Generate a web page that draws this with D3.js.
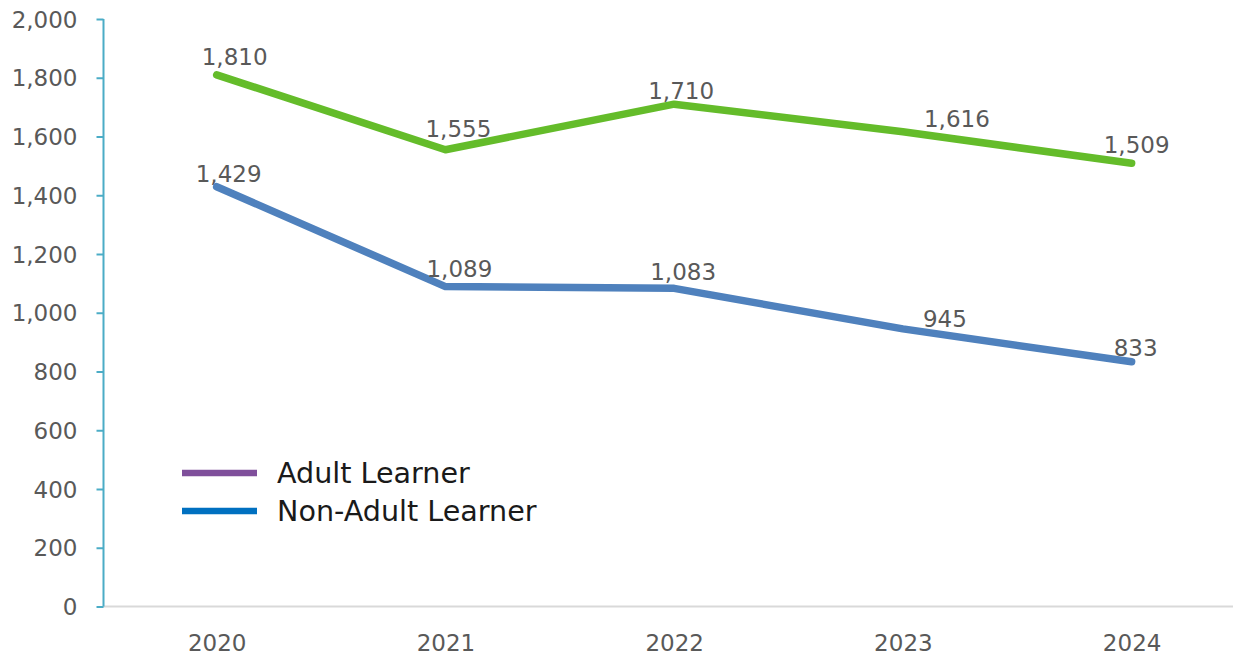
<!DOCTYPE html>
<html>
<head>
<meta charset="utf-8">
<script src="https://cdn.jsdelivr.net/npm/d3@7/dist/d3.min.js"></script>
<style>
  html, body { margin: 0; padding: 0; background: #fff; }
  svg { display: block; }
  text { font-family: "Century Gothic", "DejaVu Sans", sans-serif; }
</style>
</head>
<body>
<svg id="chart" width="1233" height="655"></svg>
<script>
// ---- data ----
const years = ["2020", "2021", "2022", "2023", "2024"];
const adultLearner = [1810, 1555, 1710, 1616, 1509];
const nonAdultLearner = [1429, 1089, 1083, 945, 833];
const yTicks = [0, 200, 400, 600, 800, 1000, 1200, 1400, 1600, 1800, 2000];
const legendLabels = ["Adult Learner", "Non-Adult Learner"];

// ---- label nudges (layout, as placed in the original) ----
const adultLabelDx = [18, 13, 7, 54, 5];
const adultLabelDy = [-10, -13, -5, -5, -10];
const nonAdultLabelDx = [12, 14, 9, 42, 4];
const nonAdultLabelDy = [-5, -10, -8, -2, -6];

const svg = d3.select("#chart");
const x = d3.scalePoint().domain(years).range([102.3, 1246]).padding(0.5);
const y = d3.scaleLinear().domain([0, 2000]).range([606.5, 19]);

const fmt = d3.format(",");

// x axis line (gray)
svg.append("line")
  .attr("x1", 103).attr("x2", 1233)
  .attr("y1", y(0)).attr("y2", y(0))
  .attr("stroke", "#d9d9d9").attr("stroke-width", 2);

// x axis labels
const xAxis = d3.axisBottom(x).tickSize(0).tickPadding(0);
const gx = svg.append("g").attr("transform", `translate(0,${y(0)})`).call(xAxis);
gx.select(".domain").remove();
gx.selectAll("text")
  .attr("y", 44).attr("dy", null)
  .attr("fill", "#595959")
  .style("font-size", "23px");

// y axis
const yAxis = d3.axisLeft(y).tickValues(yTicks).tickFormat(fmt).tickSize(7).tickPadding(19);
const gy = svg.append("g").attr("transform", "translate(103.5,0)").call(yAxis);
gy.select(".domain").attr("stroke", "#4bacc6").attr("stroke-width", 2).attr("d", `M0,${y(2000)}V${y(0)}`);
gy.selectAll(".tick line").attr("stroke", "#4bacc6").attr("stroke-width", 2);
gy.selectAll(".tick text")
  .attr("fill", "#595959")
  .attr("dy", "0.35em")
  .style("font-size", "23px");

// lines
const line = d3.line().x((d, i) => x(years[i])).y(d => y(d));
const series = [
  { values: adultLearner, color: "#64bc2a", dx: adultLabelDx, dy: adultLabelDy },
  { values: nonAdultLearner, color: "#4f81bd", dx: nonAdultLabelDx, dy: nonAdultLabelDy }
];

series.forEach(s => {
  svg.append("path")
    .attr("d", line(s.values))
    .attr("fill", "none")
    .attr("stroke", s.color)
    .attr("stroke-width", 7.5)
    .attr("stroke-linecap", "round")
    .attr("stroke-linejoin", "round");

  svg.append("g").selectAll("text")
    .data(s.values)
    .join("text")
    .attr("x", (d, i) => x(years[i]) + s.dx[i])
    .attr("y", (d, i) => y(d) + s.dy[i])
    .attr("text-anchor", "middle")
    .attr("fill", "#595959")
    .style("font-size", "23px")
    .text(d => fmt(d));
});

// legend
const legendColors = ["#7f4f9b", "#0070c0"];
const legend = svg.append("g");
legendLabels.forEach((lab, i) => {
  const ly = 473 + i * 38;
  legend.append("line")
    .attr("x1", 182).attr("x2", 257)
    .attr("y1", ly).attr("y2", ly)
    .attr("stroke", legendColors[i]).attr("stroke-width", 6.5);
  legend.append("text")
    .attr("x", 277).attr("y", ly)
    .attr("dy", "0.36em")
    .attr("fill", "#1a1a1a")
    .style("font-size", "28.6px")
    .text(lab);
});
</script>
</body>
</html>
